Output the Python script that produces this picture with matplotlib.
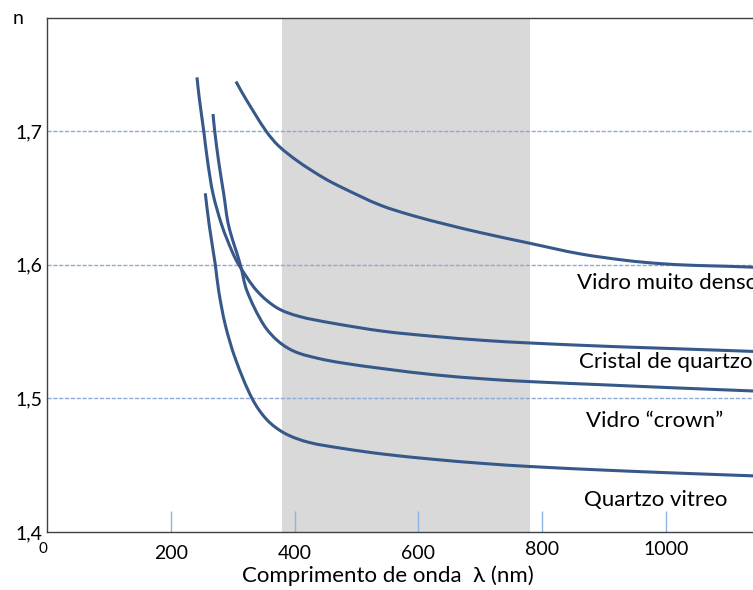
import matplotlib
matplotlib.use("Agg")
import matplotlib.pyplot as plt
import numpy as np
from matplotlib.path import Path
from matplotlib.patches import PathPatch

# Indice de refraccao n em funcao do comprimento de onda (nm)
denso_nm = [305.3, 320.4, 353.8, 374.3, 406.6, 447.0, 476.6, 538, 591, 646, 700, 780, 861, 937, 990, 1044, 1099, 1141]
denso_n = [1.7370, 1.7246, 1.7000, 1.6888, 1.6769, 1.6649, 1.6577, 1.6446, 1.6367, 1.6300, 1.6240,
           1.6160, 1.6081, 1.6031, 1.6008, 1.5995, 1.5988, 1.5981]

quartzo_nm = [242.3, 246.0, 253.2, 259.6, 268.2, 282.7, 298.9, 309.7, 339.3, 371.6, 406.6, 460.4,
              543, 624, 704, 780, 905, 1011, 1141]
quartzo_n = [1.7401, 1.7246, 1.7000, 1.6769, 1.6530, 1.6291, 1.6100, 1.6000, 1.5803, 1.5677, 1.5614,
             1.5563, 1.5502, 1.5464, 1.5434, 1.5414, 1.5389, 1.5372, 1.5351]

crown_nm = [268.2, 270.9, 277.4, 285.5, 293.5, 312.3, 323.1, 350.1, 374.3, 401.1, 438.9, 476.6,
            543, 624, 704, 780, 905, 1011, 1141]
crown_n = [1.7127, 1.7000, 1.6769, 1.6530, 1.6291, 1.6000, 1.5803, 1.5550, 1.5424, 1.5348, 1.5298,
           1.5265, 1.5222, 1.5177, 1.5146, 1.5125, 1.5100, 1.5079, 1.5055]

vitreo_nm = [255.7, 262.2, 271.9, 277.4, 288.0, 304.2, 331.2, 355.4, 385.0, 422.8, 476.6,
             543, 624, 704, 780, 905, 1011, 1141]
vitreo_n = [1.6534, 1.6291, 1.6000, 1.5803, 1.5550, 1.5298, 1.5000, 1.4839, 1.4736, 1.4671, 1.4626,
            1.4583, 1.4544, 1.4513, 1.4490, 1.4462, 1.4442, 1.4420]

nomes = ["Vidro muito denso", "Cristal de quartzo", "Vidro \u201ccrown\u201d", "Quartzo vitreo"]
series_nm = [denso_nm, quartzo_nm, crown_nm, vitreo_nm]
series_n = [denso_n, quartzo_n, crown_n, vitreo_n]

# posicao dos rotulos (linha de base)
label_nm = [856, 859, 871, 868]
label_n = [1.5818, 1.5227, 1.4783, 1.4194]

visivel = (380, 780)
xticks = [200, 400, 600, 800, 1000]
yticks = [1.4, 1.5, 1.6, 1.7]
ytick_labels = ["1,4", "1,5", "1,6", "1,7"]

cor_linha = "#36598a"
cor_grade = "#8eaad3"
cor_tick = "#8db3e2"
fonte = ["Lato", "DejaVu Sans"]

# escala aproximada em pixels por unidade (so para suavizar as curvas)
px_nm, px_n = 0.619, 1336.7


def curva_suave(xs, ys):
    # linha suavizada (tipo Excel): Bezier cubica pelos pontos lidos
    pts = np.column_stack([xs, ys])
    d = np.hypot(np.diff(pts[:, 0]) * px_nm, np.diff(pts[:, 1]) * px_n)
    t = np.concatenate([[0], np.cumsum(d)])
    tg = np.zeros_like(pts)
    tg[1:-1] = (pts[2:] - pts[:-2]) / (t[2:] - t[:-2])[:, None]
    tg[0] = (pts[1] - pts[0]) / (t[1] - t[0])
    tg[-1] = (pts[-1] - pts[-2]) / (t[-1] - t[-2])
    verts = [pts[0]]
    codes = [Path.MOVETO]
    for i in range(len(pts) - 1):
        h = t[i + 1] - t[i]
        verts += [pts[i] + tg[i] * h / 3, pts[i + 1] - tg[i + 1] * h / 3, pts[i + 1]]
        codes += [Path.CURVE4] * 3
    return Path(verts, codes)


fig = plt.figure(figsize=(7.53, 5.90), dpi=100)
ax = fig.add_axes([47 / 753, 58 / 590, 706 / 753, 514 / 590])
ax.set_xlim(0, 706 / px_nm)
ax.set_ylim(1.4, 1.4 + 514 / px_n)

# faixa do visivel
ax.axvspan(*visivel, color="#d9d9d9", lw=0, zorder=0)

for y in yticks[1:]:
    ax.axhline(y, color=cor_grade, lw=1, ls=(0, (3, 1.2)), zorder=1)

for nome, xs, ys, lx, ly in zip(nomes, series_nm, series_n, label_nm, label_n):
    ax.add_patch(PathPatch(curva_suave(xs, ys), fill=False, edgecolor=cor_linha, lw=2.2,
                           capstyle="butt", zorder=3))
    ax.text(lx, ly, nome, fontsize=16, family=fonte, va="baseline", ha="left", zorder=4,
            clip_on=False)

ax.spines["right"].set_visible(False)
for s in ["left", "top", "bottom"]:
    ax.spines[s].set_color("#404040")
    ax.spines[s].set_linewidth(1)

ax.set_xticks(xticks)
ax.set_xticklabels([])
ax.tick_params(axis="x", direction="in", length=15, width=1, color=cor_tick)
ax.set_yticks(yticks)
ax.set_yticklabels(ytick_labels, family=fonte, fontsize=14)
ax.tick_params(axis="y", length=0, pad=3)

# rotulos do eixo x (como no original, 800 e 1000 um pouco mais acima)
y_off = [-0.0428, -0.0428, -0.041, -0.035, -0.035]
for xt, yo in zip(xticks, y_off):
    ax.text(xt, yo, str(xt), transform=ax.get_xaxis_transform(), family=fonte,
            fontsize=14, ha="center", va="center")
ax.text(0, -0.033, "0", transform=ax.get_xaxis_transform(), family=fonte,
        fontsize=11, ha="right", va="center")

fig.text(388 / 753, 1 - 576 / 590, "Comprimento de onda  \u03bb (nm)", family=fonte,
         fontsize=16, ha="center", va="center")
fig.text(18 / 753, 1 - 18 / 590, "n", family=fonte, fontsize=14, ha="center", va="center")

fig.savefig("out.png", dpi=100)
